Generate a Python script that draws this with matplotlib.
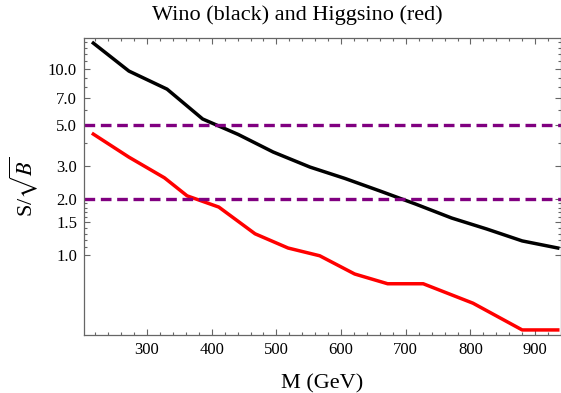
import numpy as np
import matplotlib
matplotlib.use("Agg")
import matplotlib.pyplot as plt
from matplotlib.ticker import FixedLocator, FixedFormatter, NullFormatter

plt.rcParams['font.family'] = ['Liberation Serif', 'DejaVu Serif']
plt.rcParams['mathtext.fontset'] = 'stix'

# Wino (black)
wino_mass = [217, 272, 331, 386, 441, 495, 552, 606, 660, 715, 771, 825, 880, 935]
wino_signif = [13.8, 9.76, 7.8, 5.39, 4.45, 3.58, 2.97, 2.58, 2.21, 1.88, 1.58, 1.38, 1.19, 1.09]

# Higgsino (red)
higgsino_mass = [217, 272, 327, 362, 411, 467, 518, 567, 621, 672, 727, 804, 880, 935]
higgsino_signif = [4.47, 3.36, 2.6, 2.08, 1.81, 1.30, 1.09, 0.99, 0.79, 0.70, 0.70, 0.55, 0.395, 0.395]

# reference lines
thresholds = [5.0, 2.0]

y_major = [1.0, 1.5, 2.0, 3.0, 5.0, 7.0, 10.0]
y_minor = [1.1, 1.2, 1.3, 1.4, 1.6, 1.7, 1.8, 1.9, 4.0, 6.0, 8.0, 9.0, 11.0, 12.0, 13.0, 14.0]

fig = plt.figure(figsize=(5.61, 3.93), dpi=100)
ax = fig.add_axes([84 / 561, 58 / 393, 1 - 84 / 561, (335 - 38) / 393])

ax.plot(wino_mass, wino_signif, color='black', lw=2.5, solid_joinstyle='round')
ax.plot(higgsino_mass, higgsino_signif, color='#ff0000', lw=2.5, solid_joinstyle='round')
for t in thresholds:
    ax.axhline(t, color='#800080', lw=2.4, dashes=(3.2, 1.7))

ax.set_yscale('log')
ax.set_xlim(202.6, 940)
ax.set_ylim(0.371, 14.7)

ax.yaxis.set_major_locator(FixedLocator(y_major))
ax.yaxis.set_major_formatter(FixedFormatter(['%.1f' % v for v in y_major]))
ax.yaxis.set_minor_locator(FixedLocator(y_minor))
ax.yaxis.set_minor_formatter(NullFormatter())
ax.set_xticks(np.arange(300, 901, 100))
ax.set_xticks(np.arange(220, 941, 20), minor=True)

ax.tick_params(which='both', direction='in', top=True, right=True, color='#666666', width=0.8)
ax.tick_params(which='major', length=4, labelsize=12, pad=5)
ax.tick_params(which='minor', length=2)
for s in ax.spines.values():
    s.set_color('#666666')
    s.set_linewidth(0.9)

ax.set_xlabel('M (GeV)', fontsize=16, labelpad=12)
ax.set_ylabel(r'S/$\sqrt{B}$', fontsize=16, labelpad=6)
# title sits a bit left of the axes centre, like the original
fig.text(297 / 561, 1 - 15 / 393, 'Wino (black) and Higgsino (red)', fontsize=16,
         ha='center', va='center')

fig.savefig('out.png', dpi=100)
